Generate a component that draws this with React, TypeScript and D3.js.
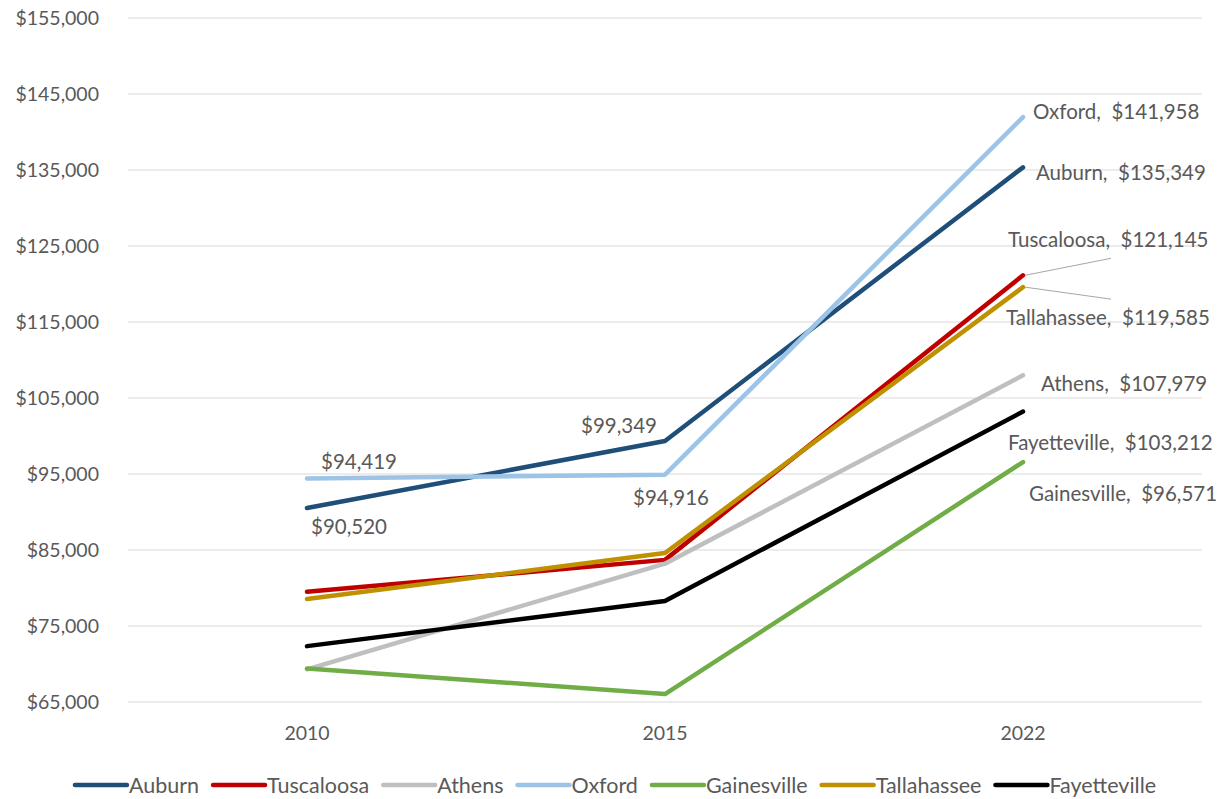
import { useEffect, useRef } from 'react';
import * as d3 from 'd3';

const years = ['2010', '2015', '2022'];
const cities = ['Auburn', 'Tuscaloosa', 'Athens', 'Oxford', 'Gainesville', 'Tallahassee', 'Fayetteville'];
const colors = ['#1F4E79', '#C00000', '#BFBFBF', '#9DC3E6', '#70AD47', '#BF9000', '#000000'];

const auburn = [90520, 99349, 135349];
const tuscaloosa = [79500, 83700, 121145];
const athens = [69300, 83200, 107979];
const oxford = [94419, 94916, 141958];
const gainesville = [69400, 66050, 96571];
const tallahassee = [78550, 84600, 119585];
const fayetteville = [72350, 78300, 103212];

const yTicks = [65000, 75000, 85000, 95000, 105000, 115000, 125000, 135000, 145000, 155000];

// which points carry a value label
const pointLabels = [
  { city: 'Oxford', year: 0, dx: 14, dy: -17, anchor: 'start' },
  { city: 'Auburn', year: 0, dx: 4, dy: 19, anchor: 'start' },
  { city: 'Auburn', year: 1, dx: -8, dy: -15, anchor: 'end' },
  { city: 'Oxford', year: 1, dx: 6, dy: 23, anchor: 'middle' },
];
// end-of-line labels: offset of text start from the 2022 point
const endLabels: Record<string, { dx: number; dy: number; leader?: [number, number] }> = {
  Oxford: { dx: 10, dy: -5 },
  Auburn: { dx: 13, dy: 5 },
  Tuscaloosa: { dx: -15, dy: -35, leader: [88, -17] },
  Tallahassee: { dx: -17, dy: 31, leader: [88, 12] },
  Athens: { dx: 18, dy: 8 },
  Fayetteville: { dx: -15, dy: 31 },
  Gainesville: { dx: 6, dy: 32 },
};

const seriesValues = [auburn, tuscaloosa, athens, oxford, gainesville, tallahassee, fayetteville];

export default function App() {
  const svgRef = useRef<SVGSVGElement>(null);

  useEffect(() => {
    if (!svgRef.current) return;
    const W = 1225, H = 799;
    const svg = d3.select(svgRef.current).attr('width', W).attr('height', H);
    svg.selectAll('*').remove();

    const font = 'Lato, "Open Sans", sans-serif';
    const textColor = '#595959';

    const x = d3.scalePoint<string>().domain(years).range([128, 1202]).padding(0.5);
    const y = d3.scaleLinear().domain([65000, 155000]).range([702, 18]);
    const fmt = d3.format('$,');

    // gridlines
    svg.append('g')
      .selectAll('line')
      .data(yTicks)
      .join('line')
      .attr('x1', 128).attr('x2', 1202)
      .attr('y1', d => y(d)).attr('y2', d => y(d))
      .attr('stroke', '#D9D9D9').attr('stroke-width', 1);

    // y axis labels
    svg.append('g')
      .selectAll('text')
      .data(yTicks)
      .join('text')
      .attr('x', 99).attr('y', d => y(d))
      .attr('dy', '0.35em')
      .attr('text-anchor', 'end')
      .attr('font-family', font).attr('font-size', 19.5)
      .attr('fill', textColor)
      .text(d => fmt(d));

    // x axis labels
    svg.append('g')
      .selectAll('text')
      .data(years)
      .join('text')
      .attr('x', d => x(d)!).attr('y', 733)
      .attr('dy', '0.35em')
      .attr('text-anchor', 'middle')
      .attr('font-family', font).attr('font-size', 19.5)
      .attr('fill', textColor)
      .text(d => d);

    const line = d3.line<number>()
      .x((_, i) => x(years[i])!)
      .y(d => y(d));

    // lines
    seriesValues.forEach((vals, i) => {
      svg.append('path')
        .datum(vals)
        .attr('d', line)
        .attr('fill', 'none')
        .attr('stroke', colors[i])
        .attr('stroke-width', 4.5)
        .attr('stroke-linecap', 'round')
        .attr('stroke-linejoin', 'round');
    });

    // point labels
    pointLabels.forEach(l => {
      const ci = cities.indexOf(l.city);
      const v = seriesValues[ci][l.year];
      svg.append('text')
        .attr('x', x(years[l.year])! + l.dx)
        .attr('y', y(v) + l.dy)
        .attr('dy', '0.35em')
        .attr('text-anchor', l.anchor)
        .attr('font-family', font).attr('font-size', 20.5)
        .attr('fill', textColor)
        .text(fmt(v));
    });

    // end labels
    cities.forEach((c, ci) => {
      const v = seriesValues[ci][2];
      const px = x(years[2])!;
      const py = y(v);
      const o = endLabels[c];
      if (o.leader) {
        svg.append('line')
          .attr('x1', px + 2).attr('y1', py)
          .attr('x2', px + o.leader[0]).attr('y2', py + o.leader[1])
          .attr('stroke', '#A6A6A6').attr('stroke-width', 1);
      }
      svg.append('text')
        .attr('x', px + o.dx)
        .attr('y', py + o.dy)
        .attr('dy', '0.35em')
        .attr('font-family', font).attr('font-size', 20.5)
        .attr('fill', textColor)
        .style('white-space', 'pre')
        .text(`${c},  ${fmt(v)}`);
    });

    // legend
    const legend = svg.append('g');
    const items = cities.map((c, i) => {
      const g = legend.append('g');
      g.append('line')
        .attr('x1', 1).attr('x2', 53).attr('y1', 0).attr('y2', 0)
        .attr('stroke', colors[i]).attr('stroke-width', 4.5)
        .attr('stroke-linecap', 'round');
      const t = g.append('text')
        .attr('x', 55).attr('y', 0).attr('dy', '0.35em')
        .attr('font-family', font).attr('font-size', 21.5)
        .attr('fill', textColor)
        .text(c);
      const w = 55 + (t.node() as SVGTextElement).getComputedTextLength();
      return { g, w };
    });
    const gap = 13;
    const total = d3.sum(items, d => d.w) + gap * (items.length - 1);
    let cx = 615 - total / 2;
    items.forEach(it => {
      it.g.attr('transform', `translate(${cx},785)`);
      cx += it.w + gap;
    });
  }, []);

  return (
    <svg ref={svgRef} style={{ position: 'absolute', left: 0, top: 0, background: '#fff' }} />
  );
}
